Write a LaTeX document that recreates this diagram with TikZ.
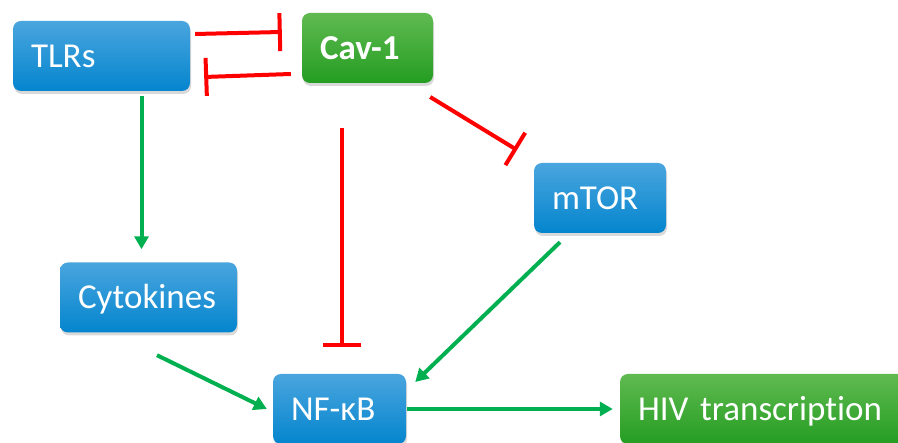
\documentclass[tikz,border=0pt]{standalone}
\usepackage{fontspec}
\setmainfont{Carlito}[Ligatures=NoCommon]
\usetikzlibrary{arrows.meta,shadows}
\definecolor{bluetop}{RGB}{74,165,222}
\definecolor{bluebot}{RGB}{4,133,206}
\definecolor{greentop}{RGB}{96,186,80}
\definecolor{greenbot}{RGB}{36,157,34}
\definecolor{inhred}{RGB}{255,0,0}
\definecolor{actgreen}{RGB}{0,176,80}
\tikzset{
  box/.style={rounded corners=8pt, inner xsep=18pt, inner ysep=0pt,
    minimum height=70pt, align=left, text=white,
    font=\fontsize{35}{40}\selectfont, text height=22.5pt, text depth=0pt,
    drop shadow={shadow xshift=1pt, shadow yshift=-3pt, opacity=0.3}},
  bluebox/.style={box, top color=bluetop, bottom color=bluebot},
  greenbox/.style={box, top color=greentop, bottom color=greenbot},
  inh/.style={draw=inhred, line width=4pt, -{Bar[width=38pt]}},
  act/.style={draw=actgreen, line width=4pt, -{Triangle[length=13pt,width=14pt]}}
}
\begin{document}
\begin{tikzpicture}[x=1pt,y=1pt]
\useasboundingbox (0,0) rectangle (898,443);
\clip (0,0) rectangle (898,443);
\node[bluebox, text width=141pt] (TLRs) at (101.5,387) {TLRs};
\node[greenbox, text width=95pt, font=\fontsize{35}{40}\selectfont\bfseries] (Cav) at (367.5,395) {Cav-1};
\node[bluebox, text width=96pt] (mTOR) at (600,245) {mTOR};
\node[bluebox, text width=141pt] (Cyt) at (148.5,145.5) {Cytokines};
\node[bluebox, text width=97pt] (NFkB) at (339.5,34) {NF-κB};
\node[greenbox, text width=249pt] (HIV) at (762.5,34) {HIV transcription};

\draw[inh] ([shift={(5pt,22pt)}]TLRs.east) -- ([shift={(-20pt,16pt)}]Cav.west);
\draw[inh] ([shift={(-11pt,-26pt)}]Cav.west) -- ([shift={(14pt,-21pt)}]TLRs.east);
\draw[inh] ([shift={(-3pt,-49pt)}]Cav.east) -- ([shift={(-83pt,48pt)}]mTOR.center);
\draw[inh] ([shift={(-25.5pt,-45pt)}]Cav.south) -- ([shift={(2.5pt,27pt)}]NFkB.north);

\draw[act] ([shift={(40pt,-5pt)}]TLRs.south) -- ([shift={(-7pt,13pt)}]Cyt.north);
\draw[act] ([shift={(8.5pt,-22.5pt)}]Cyt.south) -- ([xshift=-6pt]NFkB.west);
\draw[act] ([shift={(-40pt,-9pt)}]mTOR.south) -- ([shift={(9pt,27pt)}]NFkB.east);
\draw[act] ([xshift=1pt]NFkB.east) -- ([xshift=-7pt]HIV.west);
\end{tikzpicture}
\end{document}
